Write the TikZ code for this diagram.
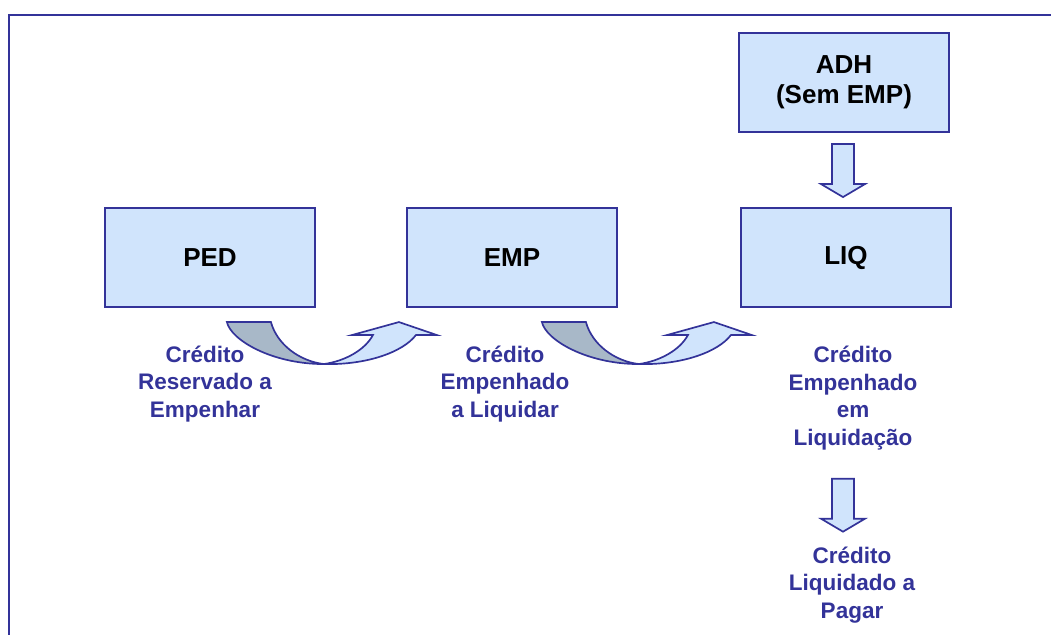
\documentclass[tikz,border=0pt]{standalone}
\usepackage{fontspec}
\setmainfont{Liberation Sans}
\usepackage{xcolor}
\usepackage{tikz}

\definecolor{framblue}{RGB}{51,51,153}
\definecolor{boxfill}{RGB}{208,228,252}
\definecolor{backgrey}{RGB}{168,184,200}

\tikzset{
    stagebox/.style={draw=framblue, line width=1.5pt, fill=boxfill,
        minimum width=5.25cm, minimum height=2.475cm, align=center,
        font=\bfseries\fontsize{18.5}{21}\selectfont},
    saldo/.style={text=framblue, align=center,
        font=\bfseries\fontsize{16}{19.5}\selectfont},
    blockarrow/.style={draw=framblue, line width=1.2pt, fill=boxfill, line join=miter},
    downarr/.pic={
        \draw[blockarrow] (-11,0) -- (-11,40) -- (-22,40) -- (0,53)
            -- (22,40) -- (11,40) -- (11,0) -- cycle;
    },
    curvearr/.pic={
        % back face
        \draw[blockarrow, fill=backgrey] (0,0) -- (44,0)
            .. controls (50,22) and (72,39) .. (97,42)
            .. controls (45,42) and (4,18) .. (0,0) -- cycle;
        % front face with head
        \draw[blockarrow] (97,42) .. controls (140,43) and (176,30) .. (189,13)
            -- (210,13) -- (172,0) -- (125,13) -- (146,13)
            .. controls (138,28) and (118,39) .. (97,42) -- cycle;
    }
}

\begin{document}
\begin{tikzpicture}[x=0.025cm, y=-0.025cm]
    \useasboundingbox (0,0) rectangle (1051,635);

    % frame
    \draw[framblue, line width=1.8pt] (9,640) -- (9,15) -- (1060,15);

    % stages
    \node[stagebox] (ped) at (210,257.5) {PED};
    \node[stagebox] (emp) at (512,257.5) {EMP};
    \node[stagebox] (liq) at (846,257.5) {LIQ};
    \node[stagebox] (adh) at (844,82.5) {ADH\\(Sem EMP)};

    % balances
    \node[saldo] (sped) at (205,384) {Crédito\\Reservado a\\Empenhar};
    \node[saldo] (semp) at (505,384) {Crédito\\Empenhado\\a Liquidar};
    \node[saldo] (sliq) at (853,398) {Crédito\\Empenhado\\em\\Liquidação};
    \node[saldo] (spag) at (852,585) {Crédito\\Liquidado a\\Pagar};

    % arrows
    \path (adh.south) ++(-1,11) pic {downarr};
    \path (sliq.south) ++(-10,24) pic {downarr};
    \path (ped.south west) ++(123,14) pic {curvearr};
    \path (emp.south west) ++(136,14) pic {curvearr};

\end{tikzpicture}
\end{document}
